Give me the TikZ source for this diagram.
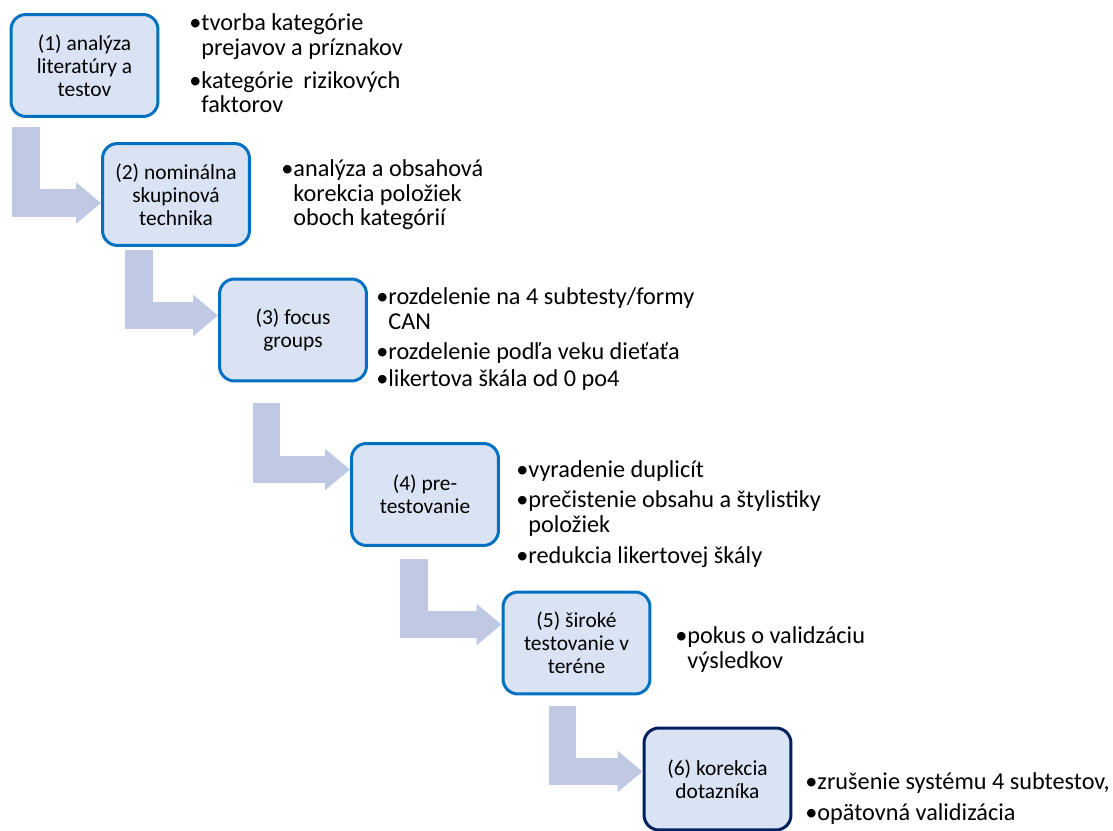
\documentclass[tikz,border=0pt]{standalone}
\usepackage{fontspec}
\setmainfont{Carlito}
\usepackage{xcolor}
\usetikzlibrary{positioning,arrows.meta}

\definecolor{boxfill}{RGB}{218,227,243}
\definecolor{boxblue}{RGB}{0,112,192}
\definecolor{boxnavy}{RGB}{0,32,96}
\definecolor{flowblue}{RGB}{191,201,228}

\newcommand{\itm}{\textbullet}
\newcommand{\itmpad}{\hphantom{\textbullet}}

\begin{document}
\begin{tikzpicture}[x=0.02cm, y=-0.02cm,
        stepbox/.style={draw=boxblue, fill=boxfill, line width=0.06cm, rounded corners=0.3cm,
            minimum width=2.94cm, minimum height=2.04cm, align=center, inner sep=2pt,
            font=\fontsize{12.2}{13.1}\selectfont},
        items/.style={anchor=base west, align=left, inner sep=0pt,
            font=\fontsize{13.8}{14.2}\selectfont},
        flow/.style={draw=flowblue, line width=0.55cm, line join=miter,
            -{Triangle[length=0.5cm, width=0.8cm]}}]
        \useasboundingbox (0,0) rectangle (1113,831);

        % steps
        \node[stepbox] (s1) at (84.5,65.5) {(1) analýza\\literatúry a\\testov};
        \node[stepbox] (s2) at (176,194.5) {(2) nominálna\\skupinová\\technika};
        \node[stepbox] (s3) at (293,330) {(3) focus\\groups};
        \node[stepbox] (s4) at (425,494.5) {(4) pre-\\testovanie};
        \node[stepbox] (s5) at (576.5,643) {(5) široké\\testovanie v\\teréne};
        \node[stepbox, draw=boxnavy] (s6) at (717.5,779) {(6) korekcia\\dotazníka};

        % notes (anchored at the last line)
        \node[items] (l1) at (189,113) {\itm tvorba kategórie\\\itmpad prejavov a príznakov\\[4.5pt]
            \itm kategórie\hspace{0.2cm}rizikových\\\itmpad faktorov};
        \node[items] (l2) at (281,226) {\itm analýza a obsahová\\\itmpad korekcia položiek\\\itmpad oboch kategórií};
        \node[items] (l3) at (376,386) {\itm rozdelenie na 4 subtesty/formy\\\itmpad CAN\\[3pt]
            \itm rozdelenie podľa veku dieťaťa\\[1pt]\itm likertova škála od 0 po4};
        \node[items] (l4) at (516,563) {\itm vyradenie duplicít\\[3pt]\itm prečistenie obsahu a štylistiky\\\itmpad položiek\\[3pt]
            \itm redukcia likertovej škály};
        \node[items] (l5) at (675,668) {\itm pokus o validzáciu\\\itmpad výsledkov};
        \node[items] (l6) at (805,820) {\itm zrušenie systému 4 subtestov,\\[3pt]\itm opätovná validizácia};

        % bent arrows
        \coordinate (c1) at (26,127);
        \coordinate (c2) at (139,250);
        \coordinate (c3) at (266.5,403);
        \coordinate (c4) at (414,559);
        \coordinate (c5) at (562.5,706);

        \draw[flow] (c1) |- ([yshift=-0.17cm]s2.west);
        \draw[flow] (c2) |- ([yshift=0.29cm]s3.west);
        \draw[flow] (c3) |- ([yshift=0.5cm]s4.west);
        \draw[flow] (c4) |- ([yshift=0.37cm]s5.west);
        \draw[flow] (c5) |- ([yshift=0.15cm]s6.west);

    \end{tikzpicture}
\end{document}
